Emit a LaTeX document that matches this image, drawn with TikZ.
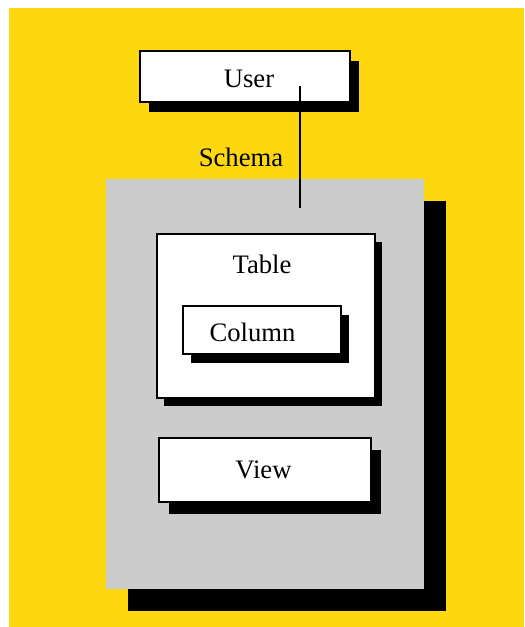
\documentclass[tikz,border=0pt]{standalone}
\usepackage{fontspec}
\setmainfont{Liberation Serif}
\usetikzlibrary{shadows}
\definecolor{gelb}{HTML}{FDD80F}
\definecolor{grau}{HTML}{CCCCCC}
\begin{document}
\begin{tikzpicture}[line width = 2pt, line join=miter, x=0.75pt, y=-0.75pt,
	kasten/.style={draw, fill=white, inner sep=0pt, line width=1.9pt},
	schatten/.style 2 args={drop shadow={shadow xshift=#1, shadow yshift=#2, fill=black, opacity=1}},
	beschr/.style={anchor=base, inner sep=0pt, font=\fontsize{20}{24}\selectfont}]
	\useasboundingbox (0,0) rectangle (524,627);
	% Hintergrund
	\fill [gelb] (9,8) rectangle (524,627);
	% Schema
	\node [fill=grau, inner sep=0pt, minimum width=238.5pt, minimum height=307.5pt,
		schatten={16.5pt}{-16.5pt}] (schema) at (265,384) {};
	\node [beschr] (schemaText) at (241,167) {Schema};
	% Kaesten
	\node [kasten, minimum width=157.5pt, minimum height=38.25pt, schatten={6.75pt}{-7.5pt}] (user) at (245,76.5) {};
	\node [kasten, minimum width=163.5pt, minimum height=123pt, schatten={5.25pt}{-6pt}] (table) at (266,316) {};
	\node [kasten, minimum width=118.5pt, minimum height=36pt, schatten={6pt}{-6.75pt}] (column) at (262,330) {};
	\node [kasten, minimum width=159pt, minimum height=48pt, schatten={7.5pt}{-9pt}] (view) at (265,470) {};
	% Texte
	\node [beschr] (userText) at (249,87.7) {User};
	\node [beschr] (tableText) at (262,273) {Table};
	\node [beschr] (columnText) at (252.5,341) {Column};
	\node [beschr] (viewText) at (263.5,478) {View};
	% Verbindung
	\coordinate (oben) at (300,86);
	\coordinate (unten) at (300,208);
	\draw (oben) -- (unten);
\end{tikzpicture}
\end{document}
